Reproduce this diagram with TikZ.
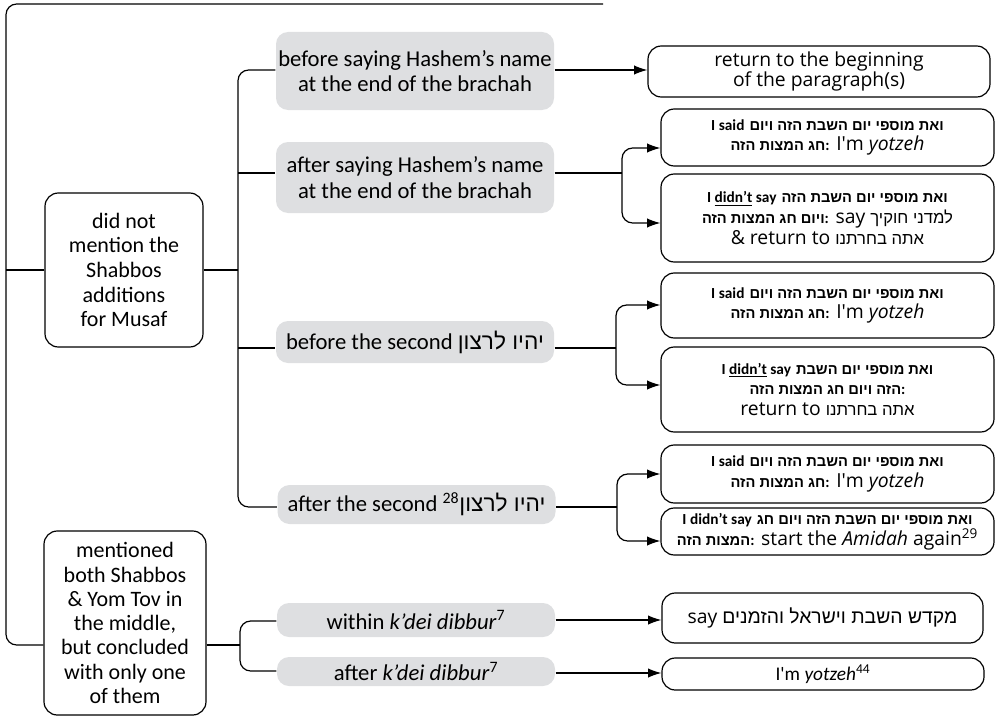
\documentclass[tikz,border=0pt]{standalone}
\usepackage{fontspec}
\setmainfont{Carlito}
\newfontfamily\hebfont[Script=Hebrew]{Liberation Sans}
\newfontfamily\opfont{Open Sans}
\TeXXeTstate=1
\usetikzlibrary{arrows.meta}
\definecolor{optgrey}{RGB}{222,223,225}
\newcommand{\hb}[1]{{\hebfont\beginR#1\endR}}
\newcommand{\hbs}[1]{{\hebfont\fontsize{12.5}{14}\selectfont\beginR#1\endR}}
\newcommand{\hbb}[1]{{\hebfont\bfseries\fontsize{11}{12}\selectfont\beginR#1\endR}}
\newcommand{\en}[1]{{\rmfamily\bfseries\fontsize{11.5}{12}\selectfont#1}}
\tikzset{
	casebox/.style={draw,rounded corners=10pt,fill=white,align=center,inner sep=1pt,font=\fontsize{16.5}{18.5}\selectfont},
	optbox/.style={fill=optgrey,rounded corners=9pt,align=center,inner sep=0pt,minimum width=208.5pt,font=\fontsize{17}{19}\selectfont},
	ansbox/.style={draw,rounded corners=10pt,fill=white,align=center,inner sep=1pt,minimum width=249.75pt,font=\opfont\fontsize{14.5}{15.5}\selectfont},
	arr/.style={-{Latex[length=10pt,width=7pt]}},
	biarr/.style={{Latex[length=10pt,width=7pt]}-{Latex[length=10pt,width=7pt]},rounded corners=8pt}
}
\begin{document}
\begin{tikzpicture}[x=0.75pt,y=-0.75pt,line width=0.9pt]
\useasboundingbox (0,0) rectangle (999,717);
% the two cases
\node[casebox,minimum width=118.5pt,minimum height=115.5pt] (nomention) at (124,270) {did not\\mention the\\Shabbos\\additions\\for Musaf};
\node[casebox,minimum width=121.5pt,minimum height=138pt,font=\fontsize{16.5}{18.2}\selectfont] (mentioned) at (125,623) {mentioned\\both Shabbos\\\& Yom Tov in\\the middle,\\but concluded\\with only one\\of them};
% grey options
\node[optbox,minimum height=58.5pt] (hashbefore) at (415,71) {before saying Hashem’s name\\at the end of the brachah};
\node[optbox,minimum height=53.25pt] (hashafter) at (415,177.5) {after saying Hashem’s name\\at the end of the brachah};
\node[optbox,minimum height=31.5pt] (yihbefore) at (415,342) {before the second \hb{יהיו לרצון}};
\node[optbox,minimum height=29.25pt] (yihafter) at (416.5,504.5) {after the second \textsuperscript{28}\hb{יהיו לרצון}};
\node[optbox,minimum height=25.5pt] (kdwithin) at (416,620) {within \textit{k’dei dibbur}\textsuperscript{7}};
\node[optbox,minimum height=21.75pt] (kdafter) at (416,671.5) {after \textit{k’dei dibbur}\textsuperscript{7}};
% answers
\node[ansbox,minimum width=256.5pt,minimum height=38.25pt] (ret) at (819,71.5) {return to the beginning\\of the paragraph(s)};
\node[ansbox,minimum height=42.75pt] (hashsaid) at (827.5,137.5) {\en{I said} \hbb{ואת מוספי יום השבת הזה ויום}\\\hbb{חג המצות הזה}\en{:} I\textquotesingle m \textit{yotzeh}};
\node[ansbox,minimum height=66pt] (hashnot) at (827.5,218) {\en{I \underline{didn’t} say} \hbb{ואת מוספי יום השבת הזה}\\\hbb{ויום חג המצות הזה}\en{:} say \hbs{למדני חוקיך}\\\& return to \hbs{אתה בחרתנו}};
\node[ansbox,minimum height=48.75pt] (yihbsaid) at (827.5,305.5) {\en{I said} \hbb{ואת מוספי יום השבת הזה ויום}\\\hbb{חג המצות הזה}\en{:} I\textquotesingle m \textit{yotzeh}};
\node[ansbox,minimum height=63.75pt] (yihbnot) at (827.5,389.5) {\en{I \underline{didn’t} say} \hbb{ואת מוספי יום השבת}\\\hbb{הזה ויום חג המצות הזה}\en{:}\\return to \hbs{אתה בחרתנו}};
\node[ansbox,minimum height=43.5pt] (yihasaid) at (827.5,474) {\en{I said} \hbb{ואת מוספי יום השבת הזה ויום}\\\hbb{חג המצות הזה}\en{:} I\textquotesingle m \textit{yotzeh}};
\node[ansbox,minimum height=35.25pt] (yihanot) at (827.5,531.5) {\en{I didn’t say} \hbb{ואת מוספי יום השבת הזה ויום חג}\\\hbb{המצות הזה}\en{:} start the \textit{Amidah} again\textsuperscript{29}};
\node[ansbox,minimum width=240.75pt,minimum height=37.5pt] (kdsay) at (822.5,618) {say \hb{מקדש השבת וישראל והזמנים}};
\node[ansbox,minimum width=241.5pt,minimum height=24pt,font=\fontsize{14.5}{15.5}\selectfont] (kdyotzeh) at (823,674) {I\textquotesingle m \textit{yotzeh}\textsuperscript{44}};
% outer frame
\coordinate (topend) at (603,4);
\draw[rounded corners=8pt] (topend) -- (6,4) -- (6,645) -- (mentioned.west |- 6,645);
\draw (nomention.west) -- (nomention.west -| 6,0);
% first case
\draw (nomention.east) -- (nomention.east -| 238,0);
\draw[rounded corners=8pt] (hashbefore.west |- 0,70) -- (238,70) -- (238,507) -- (yihafter.west |- 0,507);
\draw (238,173) -- (hashafter.west |- 0,173);
\draw (238,348) -- (yihbefore.west |- 0,348);
\draw[arr] (hashbefore.east |- 0,70) -- (ret.west |- 0,70);
\draw (hashafter.east |- 0,173) -- (622,173);
\draw[biarr] (hashsaid.west |- 0,148) -- (622,148) -- (622,223) -- (hashnot.west |- 0,223);
\draw (yihbefore.east |- 0,348) -- (616,348);
\draw[biarr] (yihbsaid.west |- 0,305) -- (616,305) -- (616,385) -- (yihbnot.west |- 0,385);
\draw (yihafter.east |- 0,507) -- (617,507);
\draw[biarr] (yihasaid.west |- 0,474) -- (617,474) -- (617,541) -- (yihanot.west |- 0,541);
% second case
\draw (mentioned.east |- 0,645) -- (240,645);
\draw[rounded corners=8pt] (kdwithin.west |- 0,621) -- (240,621) -- (240,671) -- (kdafter.west |- 0,671);
\draw[arr] (kdwithin.east |- 0,620) -- (kdsay.west |- 0,620);
\draw[arr] (kdafter.east |- 0,673) -- (kdyotzeh.west |- 0,673);
\end{tikzpicture}
\end{document}
